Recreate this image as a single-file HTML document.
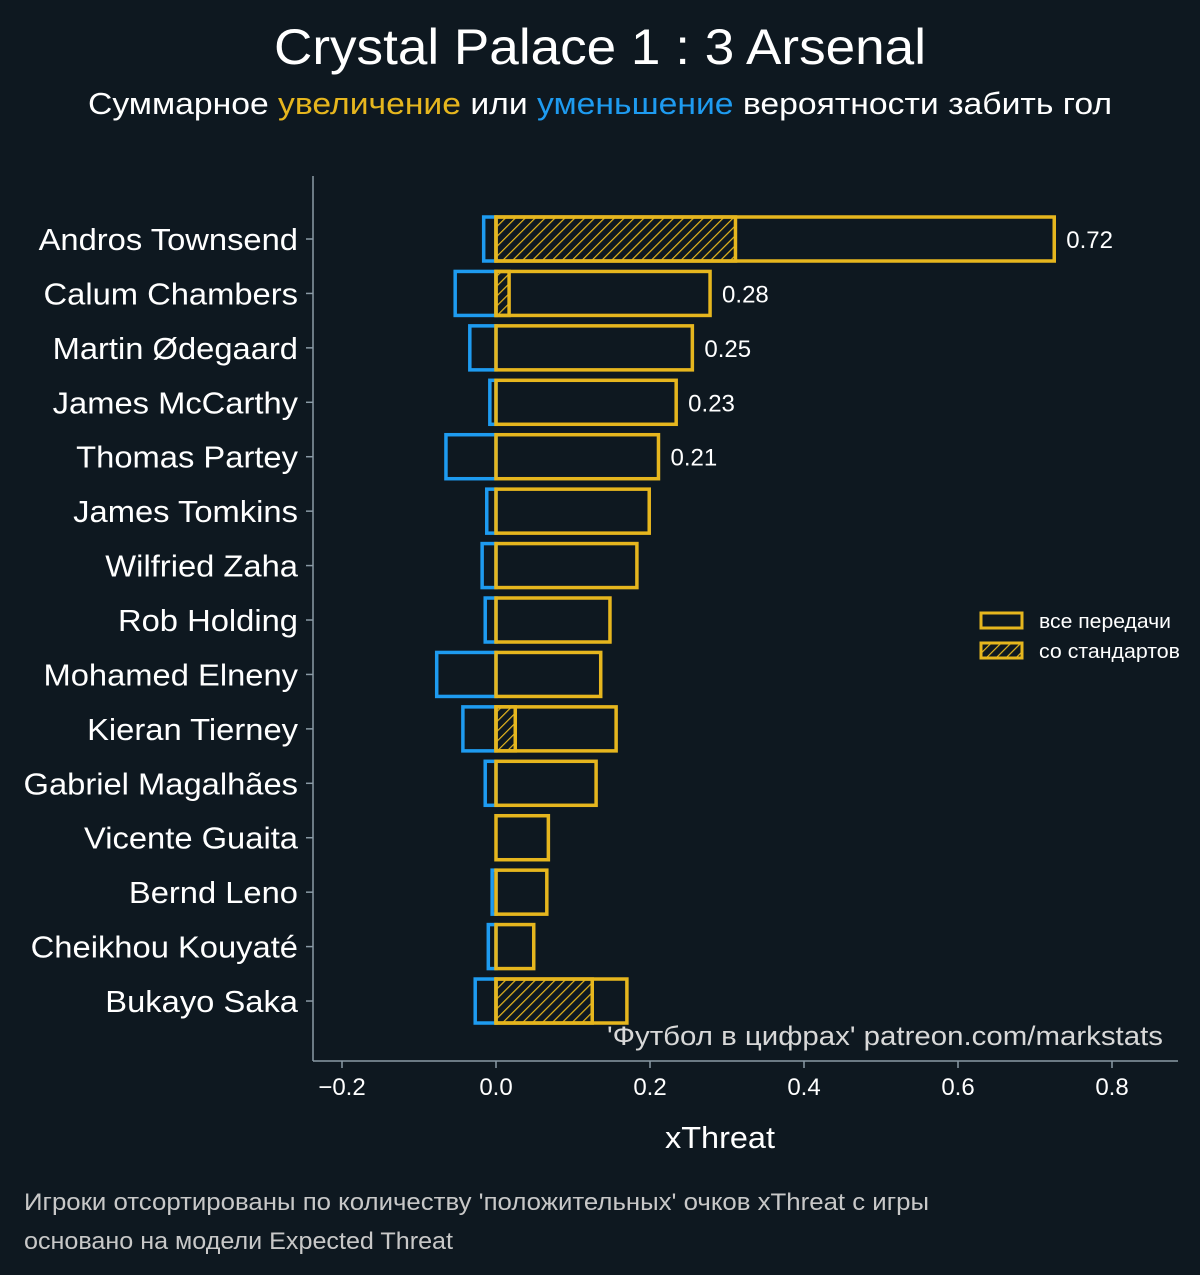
<!DOCTYPE html>
<html><head><meta charset="utf-8"><style>
body{margin:0;background:#0e1820;}
svg{display:block;font-family:"Liberation Sans",sans-serif;}
</style></head><body>
<svg id="c" width="1200" height="1275" xmlns="http://www.w3.org/2000/svg">
<defs><pattern id="hatch" patternUnits="userSpaceOnUse" width="7" height="7" patternTransform="rotate(45)"><line x1="0" y1="0" x2="0" y2="7" stroke="#e6b61e" stroke-width="2.4"/></pattern></defs>
<rect width="1200" height="1275" fill="#0e1820"/>
<text x="600" y="64" text-anchor="middle" fill="#fff" font-size="50" textLength="652" lengthAdjust="spacingAndGlyphs">Crystal Palace 1 : 3 Arsenal</text>
<text x="600" y="114" text-anchor="middle" fill="#fff" font-size="31" textLength="1024" lengthAdjust="spacingAndGlyphs">Суммарное <tspan fill="#e6b61e">увеличение</tspan> или <tspan fill="#1e9bf0">уменьшение</tspan> вероятности забить гол</text>
<g id="plot"></g>
<line x1="313" y1="176" x2="313" y2="1061" stroke="#8a9aa5" stroke-width="1.5"/>
<line x1="313" y1="1061" x2="1178" y2="1061" stroke="#8a9aa5" stroke-width="1.5"/>
<text x="720" y="1148" text-anchor="middle" fill="#fff" font-size="31" textLength="110" lengthAdjust="spacingAndGlyphs">xThreat</text>
<text x="1163" y="1045" text-anchor="end" fill="#d8d8d8" font-size="27" textLength="556" lengthAdjust="spacingAndGlyphs">'Футбол в цифрах' patreon.com/markstats</text>
<g>
<rect x="981" y="613" width="41" height="15" fill="none" stroke="#e6b61e" stroke-width="3"/>
<text x="1039" y="628" fill="#fff" font-size="20" textLength="132" lengthAdjust="spacingAndGlyphs">все передачи</text>
<rect x="981" y="643" width="41" height="15" fill="url(#hatch)" stroke="#e6b61e" stroke-width="3"/>
<text x="1039" y="658" fill="#fff" font-size="20" textLength="141" lengthAdjust="spacingAndGlyphs">со стандартов</text>
</g>
<text x="24" y="1210" fill="#c8c8c8" font-size="24" textLength="905" lengthAdjust="spacingAndGlyphs">Игроки отсортированы по количеству 'положительных' очков xThreat с игры</text>
<text x="24" y="1249" fill="#c8c8c8" font-size="24" textLength="429" lengthAdjust="spacingAndGlyphs">основано на модели Expected Threat</text>
</svg>
<script>
const players=["Andros Townsend","Calum Chambers","Martin Ødegaard","James McCarthy","Thomas Partey","James Tomkins","Wilfried Zaha","Rob Holding","Mohamed Elneny","Kieran Tierney","Gabriel Magalhães","Vicente Guaita","Bernd Leno","Cheikhou Kouyaté","Bukayo Saka"];
const positive=[0.725,0.278,0.255,0.234,0.211,0.199,0.183,0.148,0.136,0.156,0.130,0.068,0.066,0.049,0.170];
const negative=[-0.016,-0.053,-0.034,-0.008,-0.065,-0.012,-0.018,-0.014,-0.077,-0.043,-0.014,0,-0.005,-0.010,-0.027];
const setPieces=[0.311,0.017,0,0,0,0,0,0,0,0.025,0,0,0,0,0.125];
const valueLabels=["0.72","0.28","0.25","0.23","0.21"];
const xTicks=[-0.2,0,0.2,0.4,0.6,0.8];
const xTickLabels=["−0.2","0.0","0.2","0.4","0.6","0.8"];
const NS="http://www.w3.org/2000/svg";
const g=document.getElementById('plot');
const x=v=>496+v*770;
const y=i=>239+i*54.43;
const H=44;
function mk(t,a){const e=document.createElementNS(NS,t);for(const k in a)e.setAttribute(k,a[k]);g.appendChild(e);return e;}
players.forEach((p,i)=>{
  const cy=y(i);
  if(negative[i]<0){const r=mk('rect',{x:x(negative[i]),y:cy-H/2,width:x(0)-x(negative[i]),height:H,fill:'none',stroke:'#1e9bf0','stroke-width':3.5});
    
    }
  if(setPieces[i]>0){const r=mk('rect',{x:x(0),y:cy-H/2,width:x(setPieces[i])-x(0),height:H,fill:'url(#hatch)',stroke:'#e6b61e','stroke-width':3.5});
    
    }
  const r=mk('rect',{x:x(0),y:cy-H/2,width:x(positive[i])-x(0),height:H,fill:'none',stroke:'#e6b61e','stroke-width':3.5});
  
  
  const t=mk('text',{x:298,y:cy+11,'text-anchor':'end',fill:'#fff','font-size':31});t.textContent=p;
  const w=t.getComputedTextLength();
  t.setAttribute('textLength',(w*1.055).toFixed(1));
  t.setAttribute('lengthAdjust','spacingAndGlyphs');
  
  
  const tk=mk('line',{x1:306,x2:313,y1:cy,y2:cy,stroke:'#8a9aa5','stroke-width':1.5});
  
  
  if(i<valueLabels.length){const v=mk('text',{x:x(positive[i])+12,y:cy+9,fill:'#fff','font-size':24});v.textContent=valueLabels[i];
    
    }
});
xTicks.forEach((v,i)=>{
  const tk=mk('line',{x1:x(v),x2:x(v),y1:1061,y2:1068,stroke:'#8a9aa5','stroke-width':1.5});
  
  
  const t=mk('text',{x:x(v),y:1095,'text-anchor':'middle',fill:'#fff','font-size':24});t.textContent=xTickLabels[i];
  
  
});
</script>
</body></html>
